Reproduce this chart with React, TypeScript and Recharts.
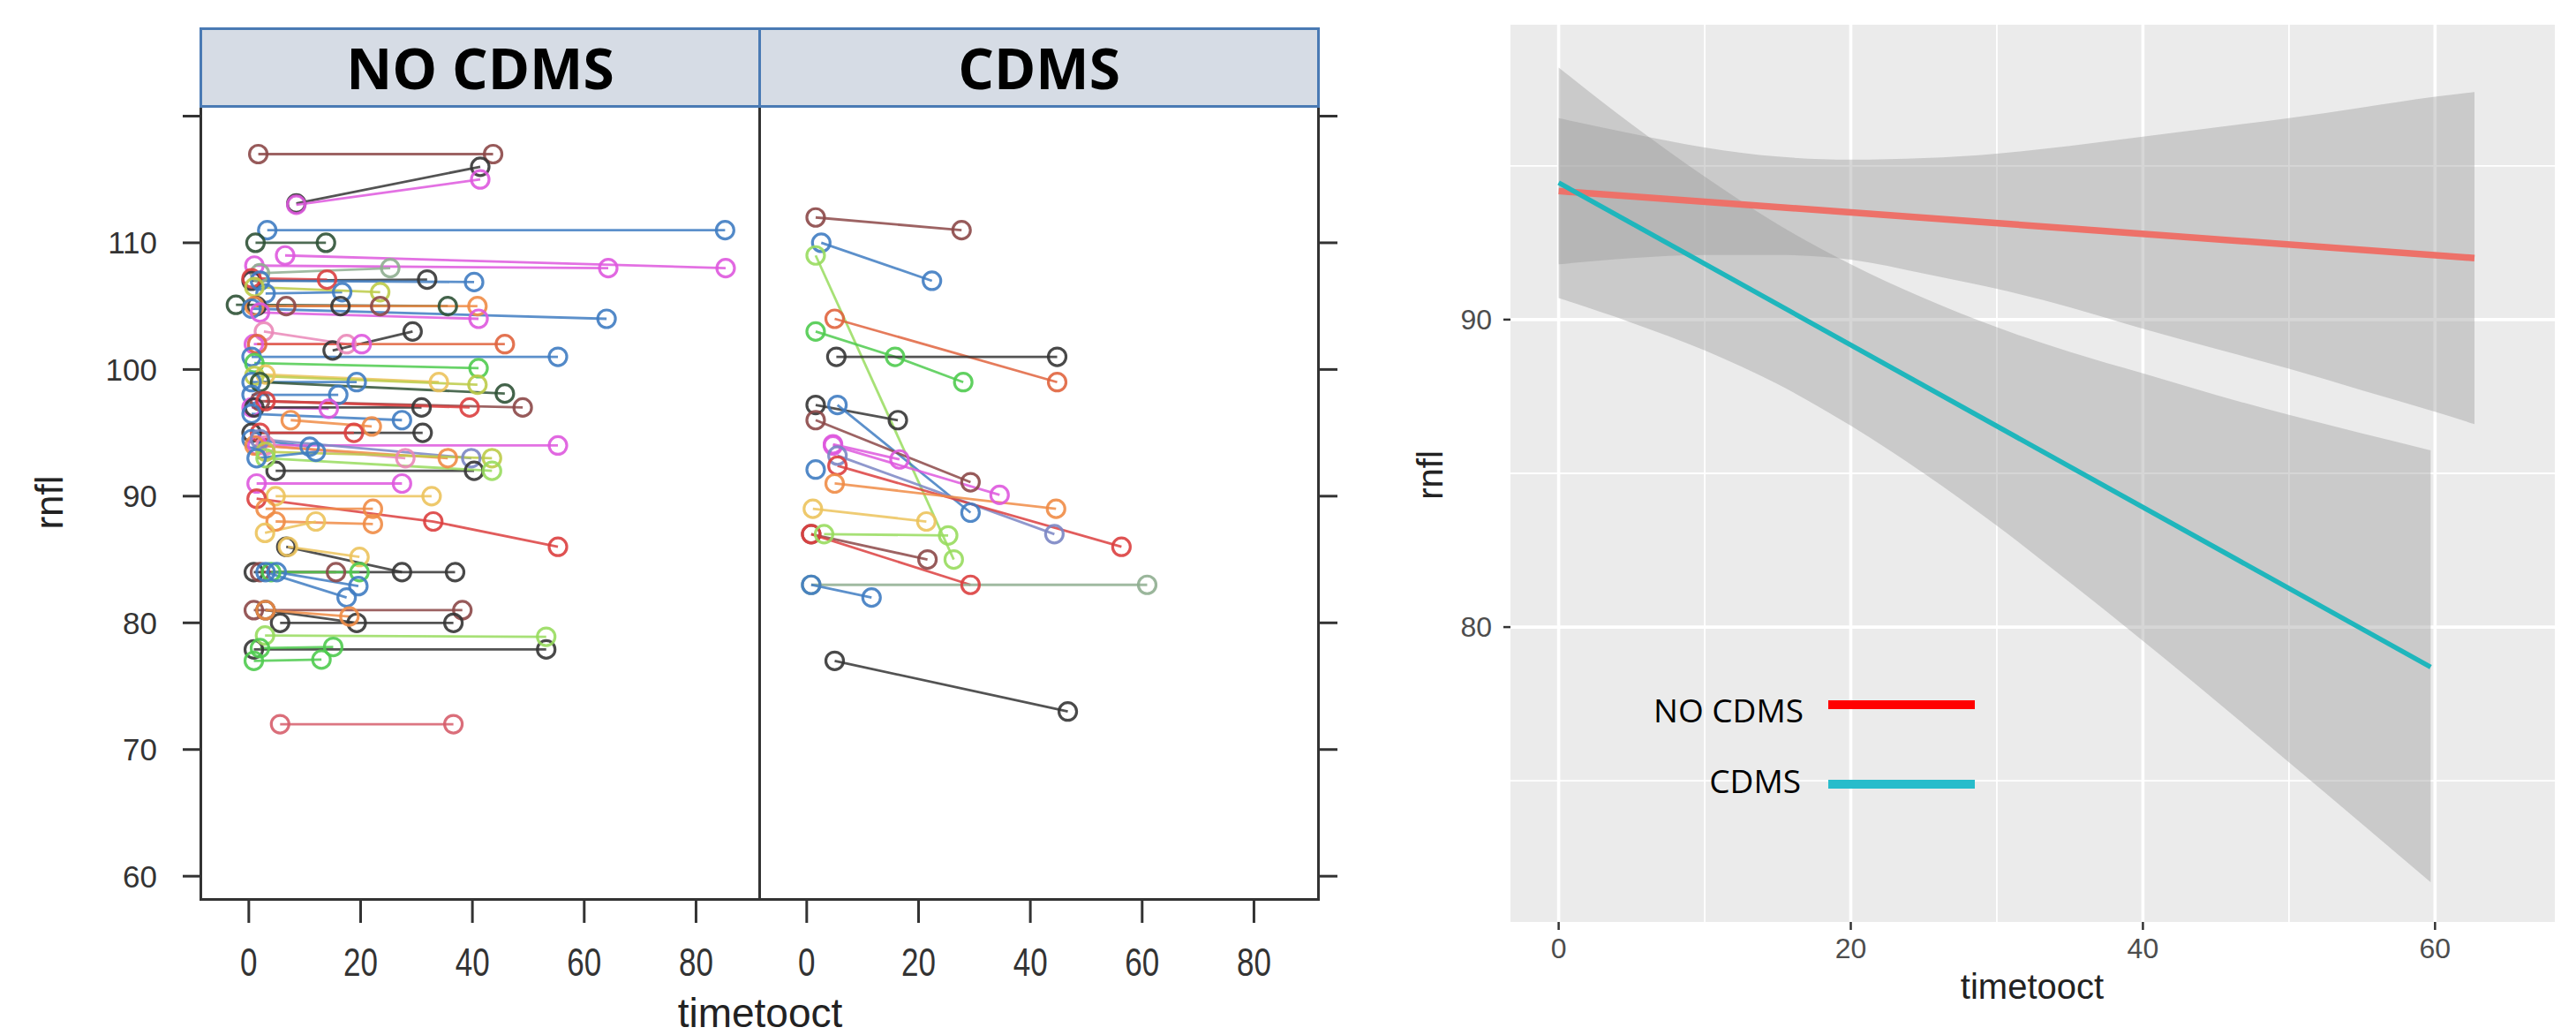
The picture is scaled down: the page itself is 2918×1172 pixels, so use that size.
import React from 'react';
import { ComposedChart, Line, XAxis, YAxis, Area, CartesianGrid } from 'recharts';

// ---------------- Left (lattice) facets ----------------
const facetXTicks = [0, 20, 40, 60, 80];
const facetYTicks = [60, 70, 80, 90, 100, 110, 120];
const facetXDomain: [number, number] = [-8.5, 91.3];
const facetYDomain: [number, number] = [58.2, 120.8];

// each subject: [timetooct, rnfl] visits
const noCdmsSubjects: [number, number][][] = [
  [[1.7, 117], [43.7, 117]],
  [[8.5, 113.1], [41.4, 116]],
  [[8.5, 113], [41.4, 115]],
  [[3.3, 111], [85.2, 111]],
  [[1.2, 110], [13.8, 110]],
  [[6.5, 109], [85.3, 108]],
  [[1, 108.2], [64.3, 108]],
  [[2, 107.6], [25.3, 108]],
  [[0.5, 107], [31.9, 107.1]],
  [[0.5, 107.2], [14, 107.1]],
  [[2, 107], [40.3, 106.9]],
  [[3, 106], [16.7, 106.1]],
  [[1, 106.5], [23.5, 106.1]],
  [[-2.3, 105.1], [35.6, 105]],
  [[1.4, 105], [16.4, 105]],
  [[6.7, 105], [23.5, 105]],
  [[1, 105], [40.9, 105]],
  [[0.5, 104.8], [64, 104]],
  [[2, 104.5], [41.1, 104]],
  [[15, 101.5], [29.3, 103]],
  [[2.7, 103], [17.5, 102]],
  [[0.9, 102], [20.2, 102]],
  [[1.5, 102], [45.8, 102]],
  [[0.5, 101], [55.3, 101]],
  [[1, 100.5], [41.1, 100.1]],
  [[3, 99.6], [34, 99]],
  [[1, 99.5], [40.9, 98.8]],
  [[0.5, 99], [19.3, 99]],
  [[2, 99], [45.8, 98.1]],
  [[0.5, 98], [16, 98]],
  [[2, 97.5], [49, 97]],
  [[0.5, 97], [14.3, 96.9]],
  [[1, 97], [30.9, 97]],
  [[3, 97.5], [39.5, 97]],
  [[7.5, 96], [22, 95.5]],
  [[0.5, 96.5], [27.4, 96]],
  [[0.5, 95], [31.1, 95]],
  [[2, 95], [18.8, 95]],
  [[0.5, 94.5], [10.9, 93.9]],
  [[1.5, 94], [55.3, 94]],
  [[3, 94], [28, 93]],
  [[1, 94], [35.6, 93]],
  [[2, 94.5], [39.8, 93]],
  [[3, 93.5], [43.5, 93]],
  [[4.8, 92], [40.3, 92]],
  [[3, 93], [43.5, 92]],
  [[1.4, 93], [12, 93.5]],
  [[1.4, 91], [27.4, 91]],
  [[4.8, 90], [32.7, 90]],
  [[1.4, 89.8], [33, 88], [55.3, 86]],
  [[3, 89], [22.2, 89]],
  [[4.8, 88], [22.2, 87.8]],
  [[2.9, 87.1], [12, 88]],
  [[6.7, 86], [27.4, 84]],
  [[7, 86], [19.8, 85.2]],
  [[0.9, 84], [36.9, 84]],
  [[2, 84], [15.6, 84]],
  [[4, 84], [19.8, 84]],
  [[3, 84], [17.5, 82]],
  [[5, 84], [19.6, 82.9]],
  [[0.9, 81], [38.2, 81]],
  [[3, 81], [19.3, 80]],
  [[5.6, 80], [36.6, 80]],
  [[3, 81], [18, 80.5]],
  [[0.9, 77.9], [53.2, 77.9]],
  [[2.9, 79], [53.2, 78.9]],
  [[0.9, 77], [13, 77.1]],
  [[2, 78], [15.1, 78.1]],
  [[5.6, 72], [36.6, 72]],
];
const noCdmsColorKeys = [
  'br', 'k', 'm', 'b', 'dk', 'm', 'm', 'gg', 'k', 'r',
  'b', 'b', 'yg', 'dk', 'k', 'br', 'o', 'b', 'm', 'k',
  'p', 'm', 'r2', 'b', 'g', 'y', 'yg', 'b', 'dk', 'b',
  'br', 'm', 'k', 'r', 'o', 'b', 'k', 'r', 'b', 'm',
  'p', 'o', 'bg', 'yg', 'k', 'lg', 'b', 'm', 'y', 'r',
  'o', 'o', 'y', 'k', 'y', 'k', 'br', 'g', 'b', 'b',
  'br', 'k', 'k', 'o', 'k', 'lg', 'g', 'g', 'pr',
];

const cdmsSubjects: [number, number][][] = [
  [[1.6, 112], [27.7, 111]],
  [[2.6, 110], [22.4, 107]],
  [[1.6, 109], [26.3, 85]],
  [[5, 104], [44.8, 99]],
  [[1.6, 103], [15.8, 101], [28, 99]],
  [[5.3, 101], [44.8, 101]],
  [[1.6, 97.2], [16.3, 96]],
  [[5.5, 97.2], [29.3, 88.7]],
  [[1.6, 96], [29.3, 91.1]],
  [[4.7, 94.1], [16.6, 92.9]],
  [[4.7, 94], [34.5, 90.1]],
  [[5.5, 93.2], [44.3, 87]],
  [[5.5, 92.4], [56.3, 86]],
  [[1.6, 92.1]],
  [[5, 91], [44.6, 89]],
  [[1.1, 89], [21.4, 88]],
  [[0.8, 87], [21.6, 85]],
  [[0.8, 87], [29.3, 83]],
  [[3.1, 87], [25.3, 86.9]],
  [[0.8, 83], [60.9, 83]],
  [[0.8, 83], [11.6, 82]],
  [[5, 77], [46.7, 73]],
];
const cdmsColorKeys = [
  'br', 'b', 'lg', 'r2', 'g', 'k', 'k', 'b', 'br', 'm',
  'm', 'bg', 'r', 'b', 'o', 'y', 'br', 'r', 'lg', 'gg',
  'b', 'k',
];

const palette: Record<string, string> = {
  k: '#353535',
  dk: '#2f5236',
  br: '#8c4848',
  r: '#dc3f3f',
  r2: '#e0643e',
  g: '#4fcb4f',
  lg: '#98dc5e',
  b: '#3f7cc2',
  bg: '#7b86c4',
  m: '#de58de',
  p: '#ea88b8',
  o: '#f08c46',
  y: '#ecc35c',
  yg: '#bccb48',
  gg: '#8fae90',
  pr: '#d65e6c',
};

// ---------------- Right (ggplot) panel ----------------
const ggXTicks = [0, 20, 40, 60];
const ggYTicks = [80, 90];
const ggXMinor = [10, 30, 50];
const ggYMinor = [75, 85, 95];
const ggXDomain: [number, number] = [-3.3, 68.2];
const ggYDomain: [number, number] = [70.41, 99.59];

const redBandX = [0, 5, 10, 15, 20, 25, 30, 35, 40, 45, 50, 55, 60, 62.7];
const redBandLo = [91.8, 92.0, 92.1, 92.1, 91.95, 91.5, 91.0, 90.4, 89.7, 89.05, 88.4, 87.7, 87.0, 86.6];
const redBandHi = [96.55, 96.05, 95.6, 95.3, 95.2, 95.25, 95.4, 95.65, 95.95, 96.25, 96.55, 96.9, 97.25, 97.4];
const cyanBandX = [0, 5, 10, 15, 20, 25, 30, 35, 40, 45, 50, 55, 59.7];
const cyanBandLo = [90.7, 89.9, 89.0, 87.9, 86.55, 85.0, 83.3, 81.45, 79.55, 77.6, 75.6, 73.6, 71.7];
const cyanBandHi = [98.2, 96.35, 94.65, 93.1, 91.8, 90.7, 89.75, 88.95, 88.25, 87.55, 86.9, 86.3, 85.75];
const redLineX = [0, 62.7];
const redLineY = [94.18, 92.0];
const cyanLineX = [0, 59.7];
const cyanLineY = [94.45, 78.7];

const redBand = redBandX.map((x, i) => ({ x, range: [redBandLo[i], redBandHi[i]] }));
const cyanBand = cyanBandX.map((x, i) => ({ x, range: [cyanBandLo[i], cyanBandHi[i]] }));
const redLine = redLineX.map((x, i) => ({ x, y: redLineY[i] }));
const cyanLine = cyanLineX.map((x, i) => ({ x, y: cyanLineY[i] }));

const SANS = '"Liberation Sans", Arial, sans-serif';

const FacetXTick = (props: any) => {
  const { x, y, payload } = props;
  return (
    <text
      x={0}
      y={0}
      transform={`translate(${x},${y}) scale(1,1.28)`}
      textAnchor="middle"
      dy="0.71em"
      fontSize={35}
      fill="#333"
      fontFamily={SANS}
    >
      {payload.value}
    </text>
  );
};

function renderSubjects(subjects: [number, number][][], keys: string[]) {
  return subjects.map((pts, i) => {
    const c = palette[keys[i]] || '#333';
    return (
      <Line
        key={i}
        data={pts.map(([x, y]) => ({ x, y }))}
        dataKey="y"
        type="linear"
        stroke={c}
        strokeWidth={2.8}
        strokeOpacity={0.85}
        dot={{ r: 10, fill: 'none', stroke: c, strokeWidth: 3.2, strokeOpacity: 0.9 }}
        activeDot={false}
        isAnimationActive={false}
        legendType="none"
      />
    );
  });
}

const tickLineStyle = { stroke: '#333', strokeWidth: 3 };

export default function App() {
  return (
    <div
      style={{
        position: 'absolute',
        left: 0,
        top: 0,
        width: 2918,
        height: 1172,
        background: '#ffffff',
        overflow: 'hidden',
        fontFamily: SANS,
      }}
    >
      {/* NO CDMS facet */}
      <div style={{ position: 'absolute', left: 0, top: 100 }}>
        <ComposedChart width={880} height={1072} margin={{ top: 20, right: 20, bottom: 0, left: 0 }}>
          <XAxis
            type="number"
            dataKey="x"
            domain={facetXDomain}
            allowDataOverflow
            ticks={facetXTicks}
            interval={0}
            height={154}
            tickSize={27}
            tickMargin={28}
            axisLine={false}
            tickLine={tickLineStyle}
            tick={<FacetXTick />}
          />
          <YAxis
            type="number"
            domain={facetYDomain}
            allowDataOverflow
            ticks={facetYTicks}
            interval={0}
            width={228}
            tickSize={21}
            tickMargin={29}
            axisLine={false}
            tickLine={tickLineStyle}
            tick={{ fontSize: 35, fill: '#333', fontFamily: SANS }}
            tickFormatter={(v: number) => (v === 120 ? '' : String(v))}
          />
          {renderSubjects(noCdmsSubjects, noCdmsColorKeys)}
        </ComposedChart>
      </div>

      {/* CDMS facet */}
      <div style={{ position: 'absolute', left: 840, top: 100 }}>
        <ComposedChart width={700} height={1072} margin={{ top: 20, right: 0, bottom: 0, left: 20 }}>
          <XAxis
            type="number"
            dataKey="x"
            domain={facetXDomain}
            allowDataOverflow
            ticks={facetXTicks}
            interval={0}
            height={154}
            tickSize={27}
            tickMargin={28}
            axisLine={false}
            tickLine={tickLineStyle}
            tick={<FacetXTick />}
          />
          <YAxis
            type="number"
            orientation="right"
            domain={facetYDomain}
            allowDataOverflow
            ticks={facetYTicks}
            interval={0}
            width={48}
            tickSize={23}
            axisLine={false}
            tickLine={tickLineStyle}
            tickFormatter={() => ''}
          />
          {renderSubjects(cdmsSubjects, cdmsColorKeys)}
        </ComposedChart>
      </div>

      {/* facet frame */}
      <div
        style={{
          position: 'absolute',
          left: 226,
          top: 119,
          width: 1269,
          height: 901,
          boxSizing: 'border-box',
          border: '3px solid #333',
        }}
      />
      <div style={{ position: 'absolute', left: 859, top: 119, width: 3, height: 901, background: '#333' }} />

      {/* strips */}
      <div
        style={{
          position: 'absolute',
          left: 226,
          top: 31,
          width: 1269,
          height: 91,
          boxSizing: 'border-box',
          border: '3px solid #4a7ab4',
          background: '#d6dce5',
          display: 'flex',
        }}
      >
        <div
          style={{
            width: 630,
            borderRight: '3px solid #4a7ab4',
            display: 'flex',
            alignItems: 'center',
            justifyContent: 'center',
            fontFamily: '"Open Sans", sans-serif',
            fontWeight: 700,
            fontSize: 64,
            lineHeight: 1,
            color: '#000',
          }}
        >
          NO CDMS
        </div>
        <div
          style={{
            flex: 1,
            display: 'flex',
            alignItems: 'center',
            justifyContent: 'center',
            fontFamily: '"Open Sans", sans-serif',
            fontWeight: 700,
            fontSize: 64,
            lineHeight: 1,
            color: '#000',
          }}
        >
          CDMS
        </div>
      </div>

      {/* left axis titles */}
      <div
        style={{
          position: 'absolute',
          left: 661,
          width: 400,
          top: 1124,
          textAlign: 'center',
          fontSize: 46,
          lineHeight: '46px',
          color: '#222',
        }}
      >
        timetooct
      </div>
      <div
        style={{
          position: 'absolute',
          left: 56 - 100,
          top: 569 - 28,
          width: 200,
          height: 56,
          lineHeight: '56px',
          textAlign: 'center',
          fontSize: 44,
          color: '#222',
          transform: 'rotate(-90deg)',
        }}
      >
        rnfl
      </div>

      {/* ggplot panel */}
      <div style={{ position: 'absolute', left: 1560, top: 0 }}>
        <ComposedChart width={1358} height={1172} margin={{ top: 28, right: 24, bottom: 0, left: 0 }}>
          <CartesianGrid
            fill="#ebebeb"
            stroke="#ffffff"
            strokeWidth={1.8}
            horizontalValues={ggYMinor}
            verticalValues={ggXMinor}
          />
          <CartesianGrid stroke="#ffffff" strokeWidth={3.6} horizontalValues={ggYTicks} verticalValues={ggXTicks} />
          <XAxis
            type="number"
            dataKey="x"
            domain={ggXDomain}
            allowDataOverflow
            ticks={ggXTicks}
            interval={0}
            height={128}
            tickSize={9}
            tickMargin={9}
            axisLine={false}
            tickLine={{ stroke: '#333', strokeWidth: 2.5 }}
            tick={{ fontSize: 32, fill: '#4d4d4d', fontFamily: SANS }}
          />
          <YAxis
            type="number"
            domain={ggYDomain}
            allowDataOverflow
            ticks={ggYTicks}
            interval={0}
            width={151}
            tickSize={8}
            tickMargin={13}
            axisLine={false}
            tickLine={{ stroke: '#333', strokeWidth: 2.5 }}
            tick={{ fontSize: 32, fill: '#4d4d4d', fontFamily: SANS }}
          />
          <Area
            data={redBand}
            dataKey="range"
            type="monotone"
            stroke="none"
            fill="#999999"
            fillOpacity={0.4}
            isAnimationActive={false}
            activeDot={false}
          />
          <Area
            data={cyanBand}
            dataKey="range"
            type="monotone"
            stroke="none"
            fill="#999999"
            fillOpacity={0.4}
            isAnimationActive={false}
            activeDot={false}
          />
          <Line
            data={redLine}
            dataKey="y"
            type="linear"
            stroke="#ed7169"
            strokeWidth={7.5}
            dot={false}
            activeDot={false}
            isAnimationActive={false}
          />
          <Line
            data={cyanLine}
            dataKey="y"
            type="linear"
            stroke="#1fb6bc"
            strokeWidth={5.5}
            dot={false}
            activeDot={false}
            isAnimationActive={false}
          />
        </ComposedChart>
      </div>

      {/* ggplot axis titles */}
      <div
        style={{
          position: 'absolute',
          left: 2302 - 200,
          width: 400,
          top: 1097,
          textAlign: 'center',
          fontSize: 40,
          lineHeight: '40px',
          color: '#222',
        }}
      >
        timetooct
      </div>
      <div
        style={{
          position: 'absolute',
          left: 1620 - 100,
          top: 538 - 25,
          width: 200,
          height: 50,
          lineHeight: '50px',
          textAlign: 'center',
          fontSize: 40,
          color: '#222',
          transform: 'rotate(-90deg)',
        }}
      >
        rnfl
      </div>

      {/* manual legend */}
      <div
        style={{
          position: 'absolute',
          left: 1800,
          width: 243,
          top: 784,
          lineHeight: '40px',
          textAlign: 'right',
          fontFamily: '"Open Sans", sans-serif',
          fontSize: 37,
          color: '#000',
        }}
      >
        NO CDMS
      </div>
      <div style={{ position: 'absolute', left: 2071, top: 793, width: 166, height: 10, background: '#ff0000' }} />
      <div
        style={{
          position: 'absolute',
          left: 1800,
          width: 240,
          top: 864,
          lineHeight: '40px',
          textAlign: 'right',
          fontFamily: '"Open Sans", sans-serif',
          fontSize: 37,
          color: '#000',
        }}
      >
        CDMS
      </div>
      <div style={{ position: 'absolute', left: 2071, top: 883, width: 166, height: 10, background: '#27bccb' }} />
    </div>
  );
}
